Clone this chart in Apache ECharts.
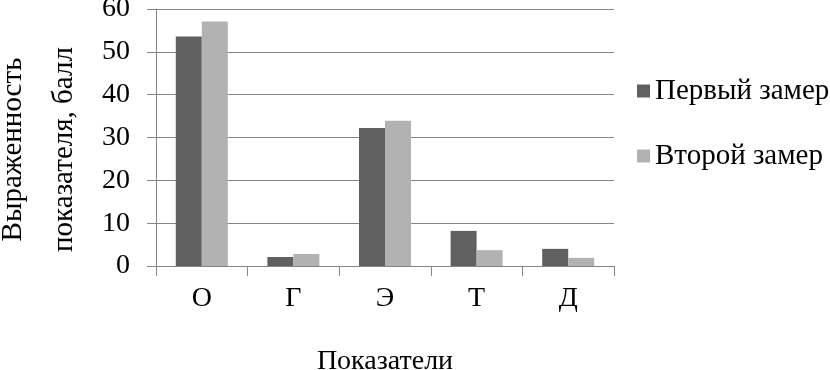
<!DOCTYPE html>
<html>
<head>
<meta charset="utf-8">
<script src="https://cdn.jsdelivr.net/npm/echarts@6/dist/echarts.min.js"></script>
<style>
html,body{margin:0;padding:0;background:#fff;}
#chart{width:830px;height:370px;}
</style>
</head>
<body>
<div id="chart"></div>
<script>
var categories = ['О', 'Г', 'Э', 'Т', 'Д'];
var seriesNames = ['Первый замер', 'Второй замер'];
var firstValues = [53.6, 2.1, 32.2, 8.2, 4.0];
var secondValues = [57.1, 2.8, 33.9, 3.7, 1.9];
var yTicks = [0, 10, 20, 30, 40, 50, 60];
var xTitle = 'Показатели';
var yTitle = 'Выраженность\nпоказателя, балл';

var FONT = "'Liberation Serif', 'Times New Roman', 'DejaVu Serif', serif";
var chart = echarts.init(document.getElementById('chart'));
chart.setOption({
  animation: false,
  backgroundColor: '#ffffff',
  grid: { left: 156, right: 216, top: 9, bottom: 104, outerBoundsMode: 'none', containLabel: false },
  legend: {
    orient: 'vertical',
    left: 632,
    top: 71,
    icon: 'rect',
    itemWidth: 13,
    itemHeight: 13,
    itemGap: 35,
    data: seriesNames,
    textStyle: { fontFamily: FONT, fontSize: 29, color: '#000', lineHeight: 30 }
  },
  xAxis: {
    type: 'category',
    data: categories,
    name: xTitle,
    nameLocation: 'middle',
    nameGap: 82,
    nameTextStyle: { fontFamily: FONT, fontSize: 28, color: '#000' },
    axisLine: { show: true, lineStyle: { color: '#868686', width: 1 } },
    axisTick: { show: true, length: 10, lineStyle: { color: '#868686' } },
    axisLabel: { fontFamily: FONT, fontSize: 28, color: '#000', margin: 19 }
  },
  yAxis: {
    type: 'value',
    min: yTicks[0],
    max: yTicks[yTicks.length - 1],
    interval: 10,
    name: yTitle,
    nameLocation: 'middle',
    nameGap: 66,
    nameRotate: 90,
    nameTextStyle: { fontFamily: FONT, fontSize: 29, color: '#000', lineHeight: 51, padding: [0, 24, 0, 0] },
    axisLine: { show: true, lineStyle: { color: '#868686', width: 1 } },
    axisTick: { show: true, length: 9, lineStyle: { color: '#868686' } },
    axisLabel: { fontFamily: FONT, fontSize: 28, color: '#000', margin: 26 },
    splitLine: { show: true, lineStyle: { color: '#868686', width: 1 } }
  },
  series: [
    {
      name: seriesNames[0],
      type: 'bar',
      data: firstValues,
      barWidth: 26,
      barGap: '0%',
      itemStyle: { color: '#606060' }
    },
    {
      name: seriesNames[1],
      type: 'bar',
      data: secondValues,
      barWidth: 26,
      barGap: '0%',
      itemStyle: { color: '#b2b2b2' }
    }
  ]
});
</script>
</body>
</html>
